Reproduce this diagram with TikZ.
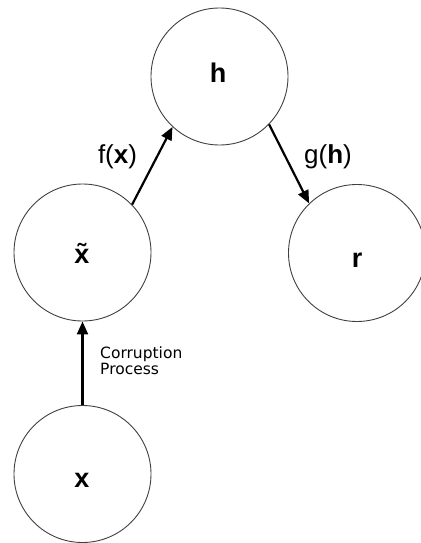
\documentclass[tikz,border=0pt]{standalone}
\usepackage{fontspec}
\setmainfont{Liberation Sans}
\newfontfamily\notefont{DejaVu Sans}
\usetikzlibrary{arrows.meta}
\begin{document}
\begin{tikzpicture}[x=1pt,y=-1pt,
  unit/.style={circle,draw=black!75,line width=0.9pt,minimum size=137pt,inner sep=0pt},
  var/.style={font=\fontsize{27}{30}\selectfont\bfseries,anchor=base,inner sep=0pt},
  fn/.style={font=\fontsize{26}{29}\selectfont,inner sep=0pt},
  note/.style={font=\notefont\fontsize{15.5}{16}\selectfont,align=left,anchor=base west,inner sep=0pt},
  link/.style={line width=2.2pt,-{Triangle[length=13pt,width=11pt]}}]
\useasboundingbox (0,0) rectangle (420,543);

% units of the autoencoder
\node[unit] (h)  at (219.5,76.5) {};
\node[unit] (xt) at (82.5,252.5) {};
\node[unit] (r)  at (357,253) {};
\node[unit] (x)  at (82.5,474) {};

% unit names (the corrupted input carries a combining tilde)
\node[var] (hname)  at (218,82)  {h};
\node[var] (xtname) at (82,263)  {x^^^^0303};
\node[var] (rname)  at (357,267) {r};
\node[var] (xname)  at (82,487)  {x};

% mappings
\draw[link] (x.north) -- (xt.south);
\draw[link] (xt.44) -- (h.227);
\draw[link] (h.-44) -- (r.134);

% mapping labels
\node[fn] (flabel) at (117.5,157) {f(\textbf{x})};
\node[fn] (glabel) at (328,157) {g(\textbf{h})};
\node[note] (corrupt) at (100,374) {Corruption\\Process};
\end{tikzpicture}
\end{document}
